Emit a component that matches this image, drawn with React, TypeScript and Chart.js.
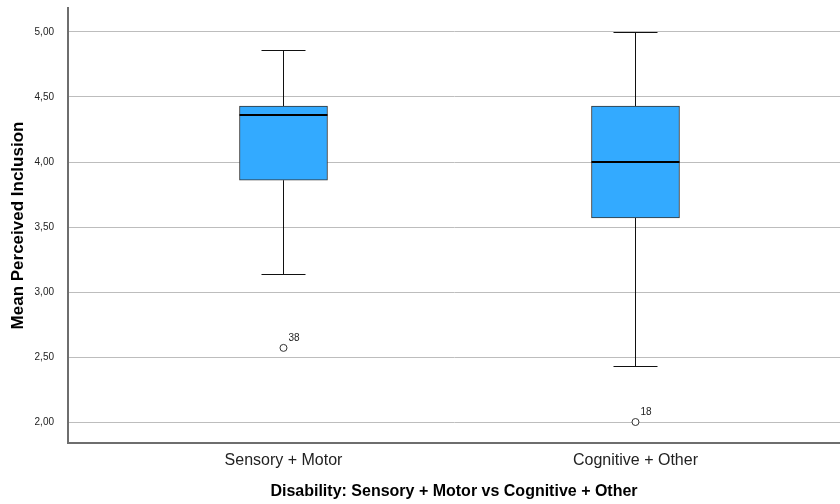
import React, { useEffect, useRef } from "react";
import { Chart, registerables } from "chart.js";

Chart.register(...registerables);

const categories = ["Sensory + Motor", "Cognitive + Other"];
const whiskerLow = [3.14, 2.43];
const q1 = [3.86, 3.57];
const median = [4.36, 4.0];
const q3 = [4.43, 4.43];
const whiskerHigh = [4.86, 5.0];
const outlierGroup = [1, 2];
const outlierValue = [2.57, 2.0];
const outlierId = ["38", "18"];
const yTicks = [2.0, 2.5, 3.0, 3.5, 4.0, 4.5, 5.0];

const FONT = "'Liberation Sans', Arial, sans-serif";

export default function App() {
  const ref = useRef<HTMLCanvasElement | null>(null);

  useEffect(() => {
    document.body.style.margin = "0";
    const canvas = ref.current;
    if (!canvas) return;

    const boxPlugin = {
      id: "boxplotExtras",
      beforeDatasetsDraw(chart: any) {
        const ctx = chart.ctx;
        const xs = chart.scales.x;
        const ys = chart.scales.y;
        const meta = chart.getDatasetMeta(0);
        ctx.save();
        ctx.strokeStyle = "#111";
        ctx.lineWidth = 1;
        categories.forEach((_, i) => {
          const bar = meta.data[i];
          const w = bar ? bar.width : 88;
          const cx = Math.round(xs.getPixelForValue(i + 1)) + 0.5;
          const yl = Math.round(ys.getPixelForValue(whiskerLow[i])) + 0.5;
          const yh = Math.round(ys.getPixelForValue(whiskerHigh[i])) + 0.5;
          const y1 = ys.getPixelForValue(q1[i]);
          const y3 = ys.getPixelForValue(q3[i]);
          ctx.beginPath();
          ctx.moveTo(cx, yl);
          ctx.lineTo(cx, y1);
          ctx.moveTo(cx, y3);
          ctx.lineTo(cx, yh);
          ctx.moveTo(cx - w / 4, yl);
          ctx.lineTo(cx + w / 4, yl);
          ctx.moveTo(cx - w / 4, yh);
          ctx.lineTo(cx + w / 4, yh);
          ctx.stroke();
        });
        ctx.restore();
      },
      afterDatasetsDraw(chart: any) {
        const ctx = chart.ctx;
        const xs = chart.scales.x;
        const ys = chart.scales.y;
        const meta = chart.getDatasetMeta(0);
        ctx.save();
        ctx.strokeStyle = "#000";
        ctx.lineWidth = 2;
        categories.forEach((_, i) => {
          const bar = meta.data[i];
          const w = bar ? bar.width : 88;
          const cx = xs.getPixelForValue(i + 1);
          const ym = Math.round(ys.getPixelForValue(median[i]));
          ctx.beginPath();
          ctx.moveTo(cx - w / 2, ym);
          ctx.lineTo(cx + w / 2, ym);
          ctx.stroke();
        });
        ctx.fillStyle = "#222";
        ctx.font = `10px ${FONT}`;
        ctx.textAlign = "left";
        ctx.textBaseline = "middle";
        outlierValue.forEach((v, i) => {
          const px = xs.getPixelForValue(outlierGroup[i]);
          const py = ys.getPixelForValue(v);
          ctx.fillText(outlierId[i], px + 5, py - 10);
        });
        ctx.restore();
      },
    };

    const chart = new Chart(canvas, {
      type: "bar",
      data: {
        datasets: [
          {
            type: "bar",
            data: categories.map((_, i) => ({ x: i + 1, y: [q1[i], q3[i]] })) as any,
            backgroundColor: "#33aaff",
            borderColor: "#333333",
            borderWidth: 1,
            borderSkipped: false,
            barThickness: 88,
          } as any,
          {
            type: "scatter",
            data: outlierValue.map((v, i) => ({ x: outlierGroup[i], y: v })),
            pointRadius: 3.5,
            pointBackgroundColor: "#ffffff",
            pointBorderColor: "#333333",
            pointBorderWidth: 1,
          } as any,
        ],
      },
      options: {
        animation: false,
        responsive: false,
        maintainAspectRatio: false,
        layout: { autoPadding: false, padding: { top: 8, right: 0, left: 0, bottom: 0 } },
        plugins: {
          legend: { display: false },
          tooltip: { enabled: false },
        },
        scales: {
          x: {
            type: "linear",
            offset: false,
            min: 0.3878,
            max: 2.581,
            grid: { display: false, drawTicks: false },
            border: { display: true, color: "#6e6e6e", width: 2 },
            afterBuildTicks: (s: any) => {
              s.ticks = categories.map((_, i) => ({ value: i + 1 }));
            },
            afterFit: (s: any) => {
              s.height = 61;
              s.paddingLeft = 0;
              s.paddingRight = 0;
            },
            ticks: {
              padding: 8,
              color: "#222",
              font: { family: FONT, size: 16 },
              maxRotation: 0,
              callback: (v: any) => categories[Number(v) - 1] ?? "",
            },
            title: {
              display: true,
              text: "Disability: Sensory + Motor vs Cognitive + Other",
              color: "#000",
              font: { family: FONT, size: 16, weight: "bold" },
              padding: { top: 0, bottom: 3 },
            },
          },
          y: {
            type: "linear",
            min: 1.8385,
            max: 5.1846,
            grid: { color: "#bdbdbd", lineWidth: 1, drawTicks: false },
            border: { display: true, color: "#6e6e6e", width: 2 },
            afterBuildTicks: (s: any) => {
              s.ticks = yTicks.map((v) => ({ value: v }));
            },
            afterFit: (s: any) => {
              s.width = 68;
              s.paddingTop = 0;
              s.paddingBottom = 0;
            },
            ticks: {
              padding: 14,
              color: "#222",
              font: { family: FONT, size: 10 },
              callback: (v: any) => Number(v).toFixed(2).replace(".", ","),
            },
            title: {
              display: true,
              text: "Mean Perceived Inclusion",
              color: "#000",
              font: { family: FONT, size: 17, weight: "bold" },
              padding: { top: 8, bottom: 0 },
            },
          },
        },
      },
      plugins: [boxPlugin],
    });

    return () => chart.destroy();
  }, []);

  return (
    <div style={{ width: 840, height: 504, background: "#fff" }}>
      <canvas ref={ref} width={840} height={504} style={{ display: "block", width: 840, height: 504 }} />
    </div>
  );
}
